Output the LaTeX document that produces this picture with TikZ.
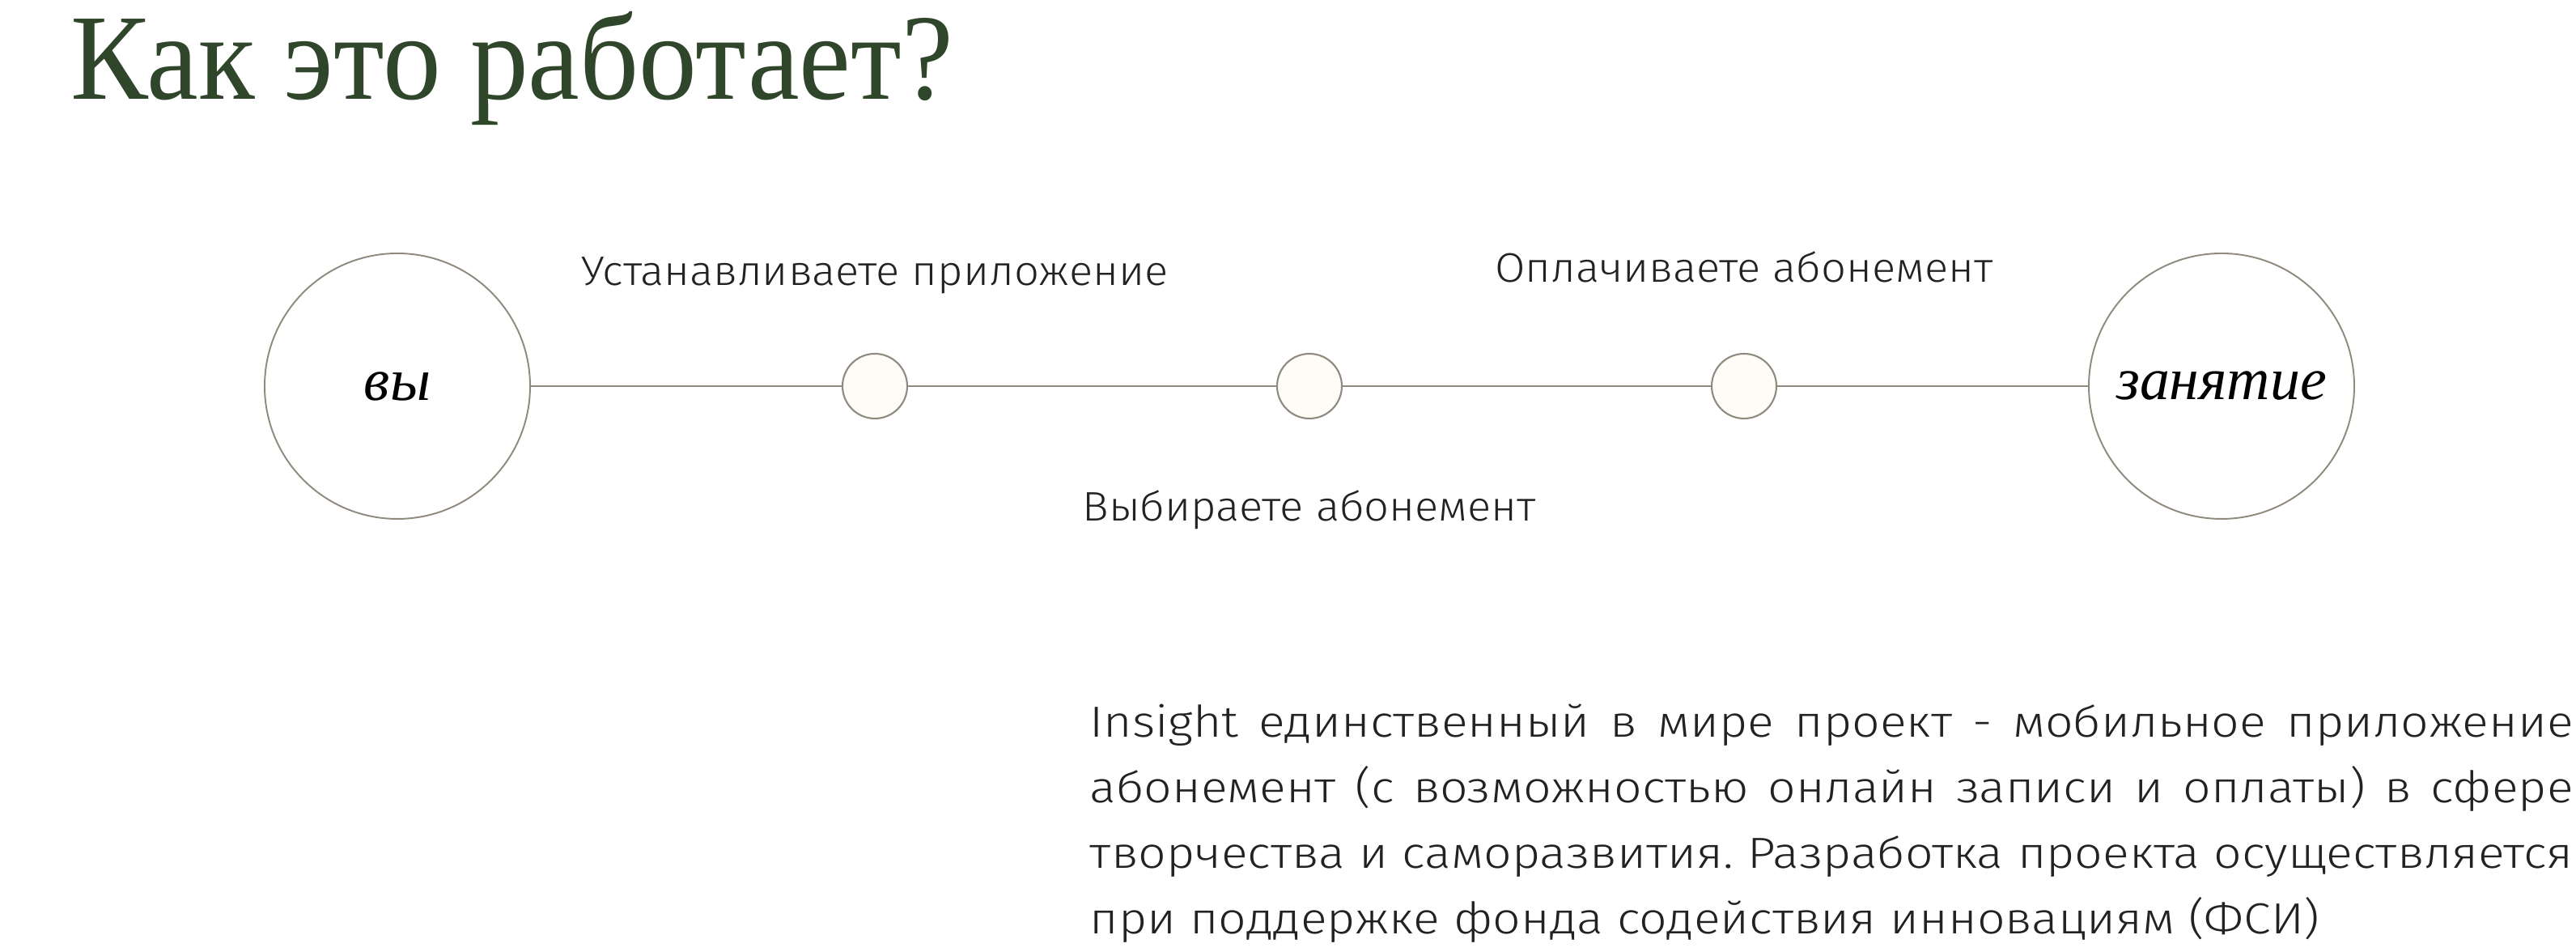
\documentclass[tikz,border=0pt]{standalone}
\usepackage{fontspec}
\usepackage{tikz}
\usetikzlibrary{positioning}
\newfontfamily\titlefont{Liberation Serif}[FakeStretch=0.95]
\newfontfamily\lightfont{Fira Sans}[UprightFont=* Light, FakeStretch=1.066]
\newfontfamily\bodyfont{Fira Sans}[UprightFont=* Light, FakeStretch=1.13]
\newfontfamily\handfont{Liberation Serif}[UprightFont=* Italic]
\definecolor{ringgrey}{RGB}{143,138,125}
\definecolor{dotfill}{RGB}{253,252,246}
\definecolor{titlegreen}{RGB}{48,70,42}
\definecolor{textdark}{RGB}{34,34,34}
\tikzset{
  bigring/.style={circle, draw=ringgrey, fill=white, line width=0.55pt,
    minimum size=3.28cm, inner sep=0pt, text=black,
    font=\handfont\fontsize{21}{21}\selectfont},
  stepdot/.style={circle, draw=ringgrey, fill=dotfill, line width=0.6pt,
    minimum size=0.8cm, inner sep=0pt},
  link/.style={draw=ringgrey, line width=0.6pt},
  steplabel/.style={font=\lightfont\fontsize{14.5}{17}\selectfont,
    text=textdark, inner sep=0pt}
}

\begin{document}
\begin{tikzpicture}
  \useasboundingbox (0,0) rectangle (31.83,11.76);

  % Title
  \node[anchor=base west, inner sep=0pt, text=titlegreen, font=\titlefont\fontsize{43}{43}\selectfont] (title) at (0.87,10.53) {Как это работает?};

  % Timeline: start, three steps, finish
  \node[bigring] (you) at (4.91,6.99) {вы};
  \node[stepdot] (install) at (10.81,6.99) {};
  \node[stepdot] (choose) at (16.18,6.99) {};
  \node[stepdot] (pay) at (21.55,6.99) {};
  \node[bigring] (lesson) at (27.45,6.99) {занятие};

  \foreach \a/\b in {you/install, install/choose, choose/pay, pay/lesson}
    \draw[link] (\a) -- (\b);

  % Step labels
  \node[steplabel, above=0.72cm of install] (installlbl) {Устанавливаете приложение};
  \node[steplabel, below=0.87cm of choose] (chooselbl) {Выбираете абонемент};
  \node[steplabel, above=0.86cm of pay] (paylbl) {Оплачиваете абонемент};

  % About the project
  \node[anchor=base west, inner sep=0pt, text width=18.33cm, align=justify, text=textdark,
    font=\bodyfont\fontsize{15.3}{23}\selectfont] (about) at (13.46,2.65) {\tolerance=10000\hyphenpenalty=10000\frenchspacing
    Insight единственный в мире проект - мобильное приложение\linebreak
    абонемент (с~возможностью онлайн записи и оплаты) в~сфере\linebreak
    творчества и саморазвития. Разработка проекта осуществляется\linebreak
    при поддержке фонда содействия инновациям (ФСИ)};
\end{tikzpicture}
\end{document}
